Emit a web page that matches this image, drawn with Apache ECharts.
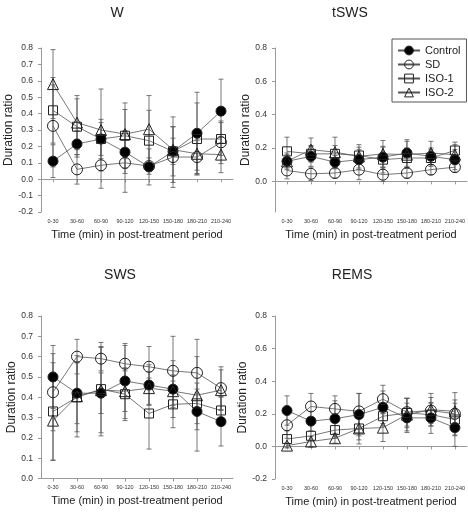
<!DOCTYPE html>
<html>
<head>
<meta charset="utf-8">
<script src="https://cdn.jsdelivr.net/npm/echarts@6/dist/echarts.min.js"></script>
<style>html,body{margin:0;padding:0;background:#fff;}#c{width:468px;height:521px;}</style>
</head>
<body>
<div id="c"></div>
<script>
const categories = ['0-30','30-60','60-90','90-120','120-150','150-180','180-210','210-240'];
const seriesNames = ['Control','SD','ISO-1','ISO-2'];
const panelTitles = ['W','tSWS','SWS','REMS'];

// W
const wControl = [0.11, 0.215, 0.245, 0.165, 0.075, 0.17, 0.28, 0.415];
const wControlErr = [0.10, 0.08, 0.10, 0.13, 0.11, 0.15, 0.25, 0.195];
const wSD = [0.325, 0.06, 0.085, 0.10, 0.08, 0.135, 0.135, 0.225];
const wSDErr = [0.25, 0.09, 0.14, 0.18, 0.05, 0.185, 0.10, 0.13];
const wISO1 = [0.42, 0.32, 0.245, 0.265, 0.235, 0.17, 0.245, 0.245];
const wISO1Err = [0.20, 0.17, 0.12, 0.20, 0.185, 0.08, 0.22, 0.10];
const wISO2 = [0.58, 0.345, 0.30, 0.275, 0.305, 0.18, 0.155, 0.15];
const wISO2Err = [0.21, 0.165, 0.25, 0.15, 0.205, 0.20, 0.10, 0.11];

// tSWS
const tControl = [0.12, 0.15, 0.115, 0.13, 0.145, 0.17, 0.15, 0.13];
const tControlErr = [0.04, 0.06, 0.04, 0.06, 0.06, 0.08, 0.05, 0.06];
const tSD = [0.065, 0.045, 0.05, 0.07, 0.04, 0.05, 0.07, 0.085];
const tSDErr = [0.05, 0.04, 0.03, 0.06, 0.04, 0.03, 0.03, 0.03];
const tISO1 = [0.18, 0.165, 0.165, 0.155, 0.13, 0.14, 0.14, 0.185];
const tISO1Err = [0.085, 0.05, 0.05, 0.05, 0.08, 0.06, 0.05, 0.05];
const tISO2 = [0.12, 0.19, 0.175, 0.15, 0.165, 0.16, 0.17, 0.16];
const tISO2Err = [0.05, 0.07, 0.09, 0.07, 0.08, 0.08, 0.07, 0.06];

// SWS
const sControl = [0.50, 0.42, 0.42, 0.48, 0.46, 0.44, 0.33, 0.28];
const sControlErr = [0.155, 0.15, 0.10, 0.185, 0.10, 0.14, 0.09, 0.12];
const sSD = [0.425, 0.60, 0.59, 0.565, 0.55, 0.53, 0.52, 0.445];
const sSDErr = [0.19, 0.085, 0.06, 0.09, 0.10, 0.17, 0.08, 0.105];
const sISO1 = [0.33, 0.40, 0.44, 0.415, 0.32, 0.365, 0.37, 0.335];
const sISO1Err = [0.24, 0.17, 0.23, 0.13, 0.175, 0.115, 0.10, 0.07];
const sISO2 = [0.285, 0.405, 0.435, 0.43, 0.445, 0.43, 0.41, 0.435];
const sISO2Err = [0.195, 0.20, 0.21, 0.10, 0.08, 0.08, 0.275, 0.10];

// REMS
const rControl = [0.22, 0.155, 0.17, 0.195, 0.24, 0.175, 0.175, 0.115];
const rControlErr = [0.09, 0.06, 0.11, 0.13, 0.10, 0.09, 0.095, 0.115];
const rSD = [0.13, 0.245, 0.23, 0.215, 0.29, 0.21, 0.22, 0.20];
const rSDErr = [0.08, 0.08, 0.08, 0.11, 0.085, 0.085, 0.08, 0.13];
const rISO1 = [0.045, 0.065, 0.10, 0.11, 0.185, 0.205, 0.195, 0.165];
const rISO1Err = [0.05, 0.07, 0.05, 0.095, 0.06, 0.09, 0.07, 0.10];
const rISO2 = [0.005, 0.03, 0.05, 0.11, 0.115, 0.195, 0.225, 0.215];
const rISO2Err = [0.015, 0.03, 0.03, 0.07, 0.085, 0.10, 0.10, 0.07];

const panels = [
  {means:[wControl,wSD,wISO1,wISO2], errs:[wControlErr,wSDErr,wISO1Err,wISO2Err]},
  {means:[tControl,tSD,tISO1,tISO2], errs:[tControlErr,tSDErr,tISO1Err,tISO2Err]},
  {means:[sControl,sSD,sISO1,sISO2], errs:[sControlErr,sSDErr,sISO1Err,sISO2Err]},
  {means:[rControl,rSD,rISO1,rISO2], errs:[rControlErr,rSDErr,rISO1Err,rISO2Err]}
];

const FONT = 'Liberation Sans, Arial, sans-serif';
const LINE = '#555';
const grids = [
  {left:41, top:48, width:192, height:164},
  {left:275, top:48, width:192, height:164},
  {left:41, top:316, width:192, height:162.5},
  {left:275, top:316, width:192, height:163}
];
const yCfg = [
  {min:-0.2, max:0.8, interval:0.1},
  {min:-0.184, max:0.8, custom:[0,0.2,0.4,0.6,0.8]},
  {min:0, max:0.8, interval:0.1},
  {min:-0.2, max:0.8, interval:0.2}
];
const titlePos = [[117,13],[350,13],[120,275],[352,275]];

const symbols = ['circle','circle','rect','triangle'];
const fills = ['#000','rgba(255,255,255,0)','rgba(255,255,255,0)','rgba(255,255,255,0)'];
const sizes = [10,11,9,11];

const xAxes = [], yAxes = [], series = [], graphics = [];
grids.forEach((g, i) => {
  xAxes.push({
    type:'category', gridIndex:i, data:categories, boundaryGap:true,
    axisLine:{show:true, lineStyle:{color:'#999', width:1}},
    axisTick:{show:true, alignWithLabel:true, length:3, lineStyle:{color:'#999'}},
    axisLabel:{fontSize:5.5, color:'#333', margin:6, fontFamily:FONT, interval:0},
    name:'Time (min) in post-treatment period', nameLocation:'middle', nameGap:17,
    nameTextStyle:{fontSize:11, color:'#222', fontFamily:FONT},
    splitLine:{show:false}
  });
  const yc = yCfg[i];
  const ya = {
    type:'value', gridIndex:i, min:yc.min, max:yc.max,
    axisLine:{show:true, lineStyle:{color:'#999', width:1}},
    axisTick:{show:true, length:3, inside:false, lineStyle:{color:'#999'}},
    axisLabel:{fontSize:8.5, color:'#333', margin:8, fontFamily:FONT,
      formatter:v => (Math.abs(v) < 1e-9 ? 0 : v).toFixed(1)},
    splitLine:{show:false},
    name:'Duration ratio', nameLocation:'middle', nameGap:16,
    nameTextStyle:{fontSize:12, color:'#222', fontFamily:FONT}
  };
  if (yc.custom) {
    ya.axisLabel.customValues = yc.custom;
    ya.axisTick.customValues = yc.custom;
  } else {
    ya.interval = yc.interval;
  }
  yAxes.push(ya);

  const p = panels[i];
  seriesNames.forEach((name, k) => {
    series.push({
      type:'line', name:name, xAxisIndex:i, yAxisIndex:i,
      data:p.means[k], symbol:symbols[k], symbolSize:sizes[k],
      lineStyle:{color:LINE, width:0.8},
      itemStyle:{color:fills[k], borderColor:'#222', borderWidth:1},
      z:4, animation:false, silent:true
    });
    series.push({
      type:'custom', name:'err-'+i+'-'+k, xAxisIndex:i, yAxisIndex:i,
      data:p.means[k].map((m, j) => [j, m, p.errs[k][j]]),
      renderItem:(params, api) => {
        const x = api.value(0), m = api.value(1), e = api.value(2);
        const top = api.coord([x, m + e]);
        const bot = api.coord([x, m - e]);
        const cw = 2.5;
        const st = {stroke:LINE, lineWidth:0.8};
        return {type:'group', children:[
          {type:'line', shape:{x1:top[0], y1:top[1], x2:bot[0], y2:bot[1]}, style:st},
          {type:'line', shape:{x1:top[0]-cw, y1:top[1], x2:top[0]+cw, y2:top[1]}, style:st},
          {type:'line', shape:{x1:bot[0]-cw, y1:bot[1], x2:bot[0]+cw, y2:bot[1]}, style:st}
        ]};
      },
      z:2, animation:false, silent:true
    });
  });

  graphics.push({type:'text', x:titlePos[i][0], y:titlePos[i][1],
    style:{text:panelTitles[i], fill:'#222', font:'14px ' + FONT, align:'center', verticalAlign:'middle'}});
});

const chart = echarts.init(document.getElementById('c'), null, {renderer:'canvas'});
chart.setOption({
  backgroundColor:'#fff',
  animation:false,
  grid:grids,
  xAxis:xAxes,
  yAxis:yAxes,
  series:series,
  graphic:graphics,
  legend:{
    data:seriesNames, orient:'vertical', left:392, top:39,
    padding:[6,6,4,5], itemGap:3, itemWidth:22, itemHeight:11,
    borderColor:'#555', borderWidth:1, backgroundColor:'#fff',
    textStyle:{fontSize:11, color:'#222', fontFamily:FONT},
    itemStyle:{borderColor:'#222', borderWidth:1},
    selectedMode:false
  }
});
</script>
</body>
</html>
